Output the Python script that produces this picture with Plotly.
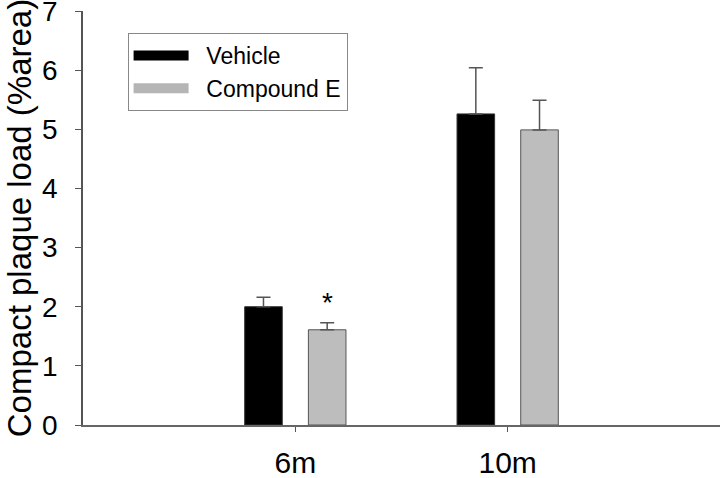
import plotly.graph_objs as go

# values
ages = ['6m', '10m']
vehicle = [2.00, 5.26]
vehicle_err = [0.16, 0.78]
compound_e = [1.61, 4.99]
compound_e_err = [0.12, 0.50]

x_pos = [1, 2]
pad = '\u00a0\u00a0'  # small gap between legend swatch and label

fig = go.Figure()

fig.add_trace(go.Bar(
    x=x_pos, y=vehicle, name='Vehicle', showlegend=False,
    marker=dict(color='black', line=dict(color='#333333', width=1)),
    error_y=dict(type='data', array=vehicle_err, symmetric=False,
                 arrayminus=[0, 0], color='#555555', thickness=1.5, width=7)
))
fig.add_trace(go.Bar(
    x=x_pos, y=compound_e, name='Compound E', showlegend=False,
    marker=dict(color='#bdbdbd', line=dict(color='#555555', width=1)),
    error_y=dict(type='data', array=compound_e_err, symmetric=False,
                 arrayminus=[0, 0], color='#555555', thickness=1.5, width=7)
))

# legend entries drawn as thick lines so the swatches look like wide bars
fig.add_trace(go.Scatter(x=[None], y=[None], mode='lines', name=pad + 'Vehicle',
                         line=dict(color='black', width=12)))
fig.add_trace(go.Scatter(x=[None], y=[None], mode='lines', name=pad + 'Compound E',
                         line=dict(color='#b5b5b5', width=12)))

# significance marker above the 6m Compound E bar
fig.add_annotation(x=x_pos[0], y=compound_e[0] + compound_e_err[0],
                   xshift=32, yshift=20, text='*', showarrow=False,
                   font=dict(size=28, color='black'))

fig.update_layout(
    width=720, height=478,
    barmode='group', bargap=0.40, bargroupgap=0.41,
    plot_bgcolor='white', paper_bgcolor='white',
    font=dict(family='Liberation Sans, Arial, sans-serif', color='black'),
    margin=dict(l=83, r=0, t=11, b=53),
    xaxis=dict(range=[0, 3.0], tickvals=x_pos, ticktext=ages,
               showline=True, linecolor='#666666', linewidth=1.5,
               ticks='outside', ticklen=5, tickcolor='#555555',
               showgrid=False, zeroline=False, automargin=False,
               ticklabelstandoff=5, tickfont=dict(size=30)),
    yaxis=dict(range=[0, 7], dtick=1, showline=True, linecolor='#555555',
               linewidth=1.5, ticks='outside', ticklen=6, tickcolor='#555555',
               showgrid=False, zeroline=False, tickfont=dict(size=28),
               automargin=False, ticklabeloverflow='allow',
               ticklabelstandoff=12,
               title=dict(text='Compact plaque load (%area)',
                          font=dict(size=33), standoff=1)),
    legend=dict(x=0.07, y=0.947, xanchor='left', yanchor='top',
                bordercolor='#888888', borderwidth=1, itemwidth=55,
                font=dict(size=23), bgcolor='white'),
    showlegend=True,
)

# drop the default page margin so the figure sits at the window's corner
fig.write_html("out.html", config={'displayModeBar': False},
               post_script="document.body.style.margin='0';")
